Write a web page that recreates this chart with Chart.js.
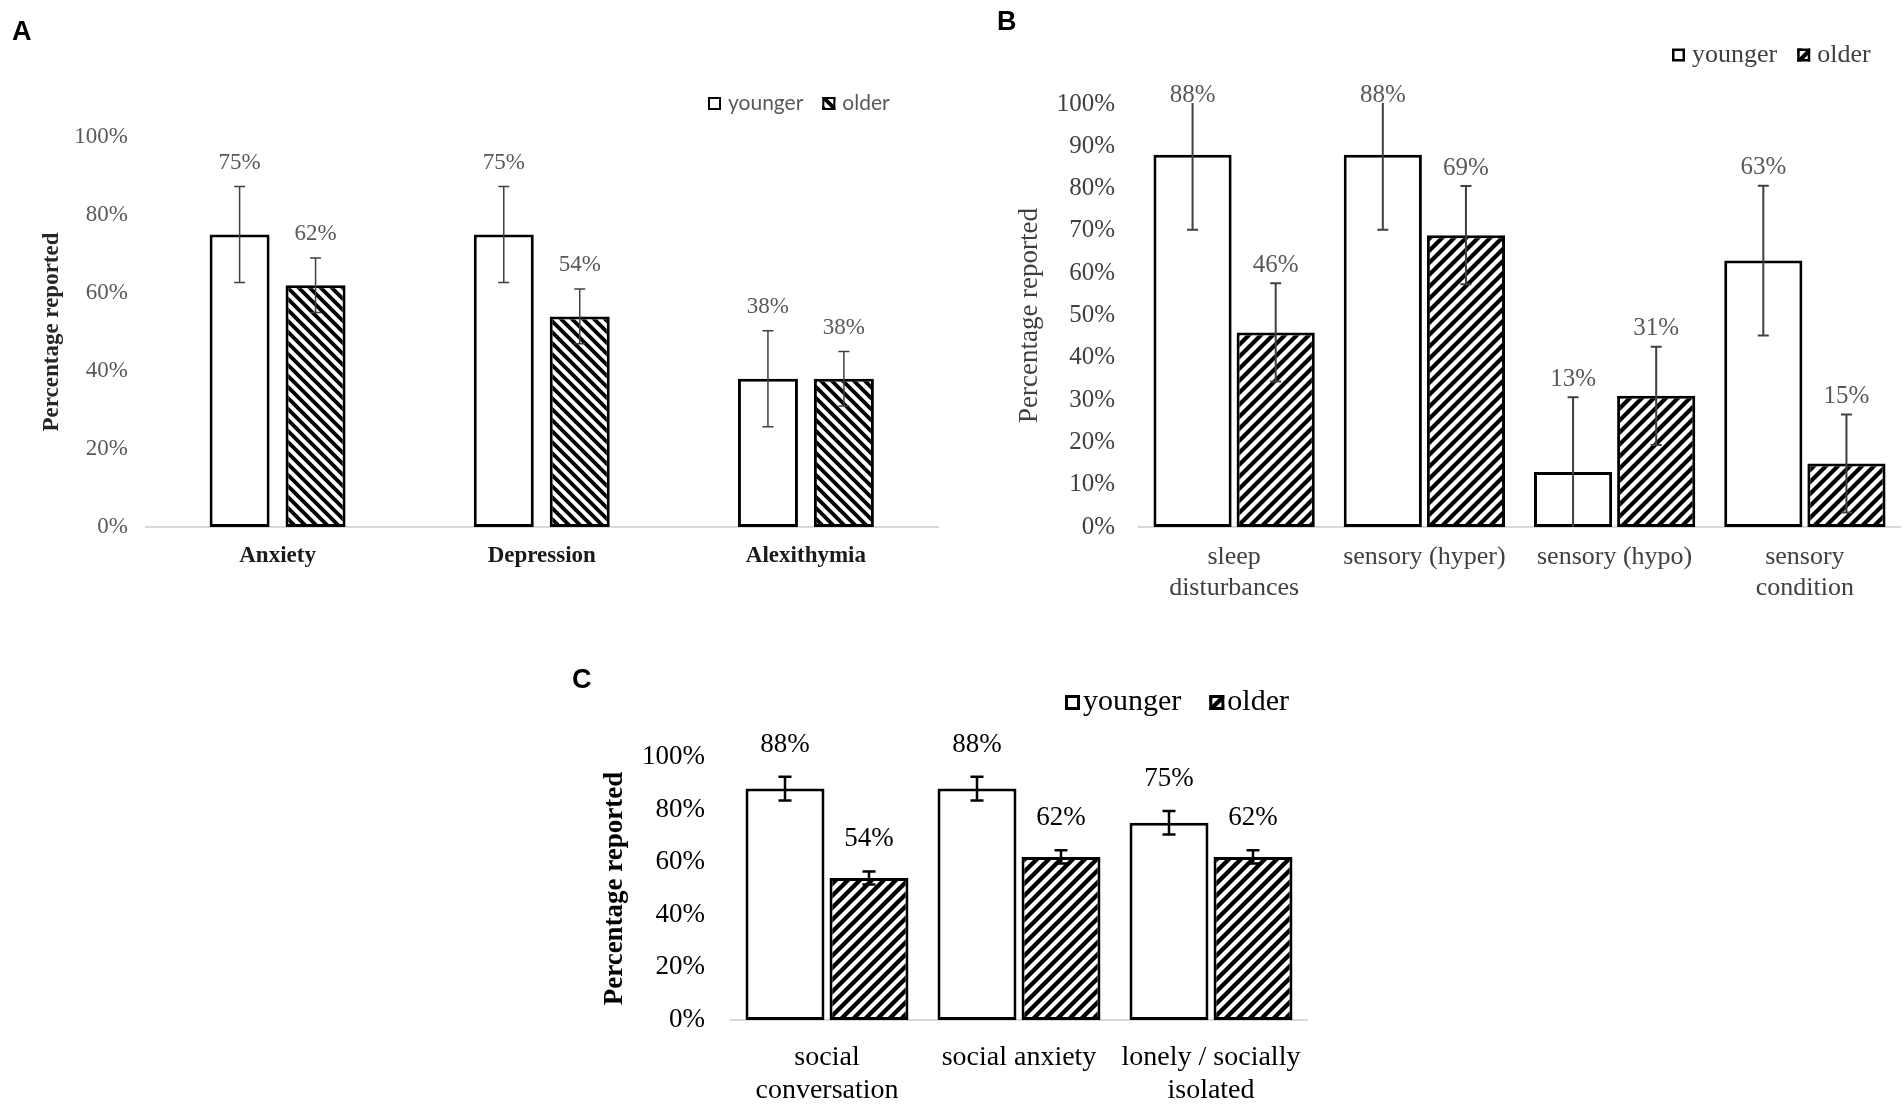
<!DOCTYPE html>
<html>
<head>
<meta charset="utf-8">
<script src="https://cdn.jsdelivr.net/npm/chart.js@4.4.1/dist/chart.umd.min.js"></script>
<style>
  body { margin: 0; background: #fff; }
  #wrap { position: relative; width: 1904px; height: 1108px; overflow: hidden; background: #fff; }
  canvas { position: absolute; left: 0; top: 0; }
  .panel { position: absolute; font: bold 27px "Liberation Sans", Arial, sans-serif; line-height: 1; color: #000; }
</style>
</head>
<body>
<div id="wrap">
  <canvas id="chartA" width="1904" height="1108"></canvas>
  <canvas id="chartB" width="1904" height="1108"></canvas>
  <canvas id="chartC" width="1904" height="1108"></canvas>
  <div class="panel" style="left:12px;top:18px">A</div>
  <div class="panel" style="left:997px;top:8px">B</div>
  <div class="panel" style="left:572px;top:666px">C</div>
</div>
<script>
const serif = "'Liberation Serif', 'Times New Roman', serif";

// panel A
const aCategories = ['Anxiety', 'Depression', 'Alexithymia'];
const aYounger = [75, 75, 38];
const aOlder = [62, 54, 38];
const aYoungerErr = [12.3, 12.3, 12.3];
const aOlderErr = [7, 7, 7];

// panel B
const bCategories = [['sleep', 'disturbances'], 'sensory (hyper)', 'sensory (hypo)', ['sensory', 'condition']];
const bYounger = [88, 88, 13, 63];
const bOlder = [46, 69, 31, 15];
const bYoungerErr = [17.7, 17.7, 17.7, 17.7];
const bOlderErr = [11.6, 11.6, 11.6, 11.6];

// panel C
const cCategories = [['social', 'conversation'], 'social anxiety', ['lonely / socially', 'isolated']];
const cYounger = [88, 88, 75];
const cOlder = [54, 62, 62];
const cYoungerErr = [4.5, 4.5, 4.5];
const cOlderErr = [2.5, 2.5, 2.5];

const seriesNames = ['younger', 'older'];

function hatch(dir, size, lw) {
  const c = document.createElement('canvas');
  c.width = size; c.height = size;
  const g = c.getContext('2d');
  g.fillStyle = '#fff';
  g.fillRect(0, 0, size, size);
  g.strokeStyle = '#000';
  g.lineWidth = lw;
  g.beginPath();
  if (dir === '/') {
    g.moveTo(0, size); g.lineTo(size, 0);
    g.moveTo(-size / 2, size / 2); g.lineTo(size / 2, -size / 2);
    g.moveTo(size / 2, size * 1.5); g.lineTo(size * 1.5, size / 2);
  } else {
    g.moveTo(0, 0); g.lineTo(size, size);
    g.moveTo(-size / 2, size / 2); g.lineTo(size / 2, size * 1.5);
    g.moveTo(size / 2, -size / 2); g.lineTo(size * 1.5, size / 2);
  }
  g.stroke();
  return g.createPattern(c, 'repeat');
}

// error bars + value labels above them
const errorBars = {
  id: 'errorBars',
  afterDatasetsDraw(chart, args, opts) {
    const {ctx, chartArea} = chart;
    const y = chart.scales.y;
    chart.data.datasets.forEach((ds, di) => {
      chart.getDatasetMeta(di).data.forEach((bar, i) => {
        const v = ds.data[i], e = ds.errors[i];
        const top = y.getPixelForValue(v + e);
        const bot = y.getPixelForValue(v - e);
        ctx.save();
        ctx.beginPath();
        ctx.rect(chartArea.left, chartArea.top - 1, chartArea.width, chartArea.height + 1);
        ctx.clip();
        ctx.strokeStyle = opts.color;
        ctx.lineWidth = opts.lineWidth;
        ctx.beginPath();
        ctx.moveTo(bar.x, top); ctx.lineTo(bar.x, bot);
        ctx.moveTo(bar.x - opts.cap / 2, top); ctx.lineTo(bar.x + opts.cap / 2, top);
        ctx.moveTo(bar.x - opts.cap / 2, bot); ctx.lineTo(bar.x + opts.cap / 2, bot);
        ctx.stroke();
        ctx.restore();

        let ly = y.getPixelForValue(v + e) - opts.labelOffset;
        if (opts.topGap != null) ly = Math.max(ly, chartArea.top - opts.topGap);
        ctx.save();
        ctx.fillStyle = opts.labelColor;
        ctx.font = opts.labelFont;
        ctx.textAlign = 'center';
        ctx.textBaseline = 'middle';
        ctx.fillText(v + '%', bar.x, ly);
        ctx.restore();
      });
    });
  }
};

// small legend with square swatches
const boxLegend = {
  id: 'boxLegend',
  afterDraw(chart, args, opts) {
    const ctx = chart.ctx;
    let x = opts.x;
    ctx.save();
    ctx.font = opts.font;
    ctx.textBaseline = 'middle';
    ctx.textAlign = 'left';
    chart.data.datasets.forEach(ds => {
      const top = opts.y - opts.box / 2;
      const lw = opts.lineWidth;
      ctx.fillStyle = ds.backgroundColor;
      ctx.fillRect(x, top, opts.box, opts.box);
      ctx.lineWidth = lw;
      ctx.strokeStyle = '#000';
      ctx.strokeRect(x + lw / 2, top + lw / 2, opts.box - lw, opts.box - lw);
      ctx.fillStyle = opts.color;
      const tx = x + opts.box + opts.textGap;
      ctx.fillText(ds.label, tx, opts.y);
      x = tx + ctx.measureText(ds.label).width + opts.itemGap;
    });
    ctx.restore();
  }
};

function makeChart(id, p) {
  return new Chart(document.getElementById(id), {
    type: 'bar',
    data: {
      labels: p.labels,
      datasets: [
        {
          label: seriesNames[0], data: p.younger, errors: p.youngerErr,
          backgroundColor: '#fff', borderColor: '#000', borderWidth: 3, borderSkipped: false,
          categoryPercentage: p.catPct, barPercentage: p.barPct
        },
        {
          label: seriesNames[1], data: p.older, errors: p.olderErr,
          backgroundColor: p.pattern, borderColor: '#000', borderWidth: 3, borderSkipped: false,
          categoryPercentage: p.catPct, barPercentage: p.barPct
        }
      ]
    },
    options: {
      responsive: false,
      animation: false,
      devicePixelRatio: 1,
      layout: { padding: p.padding },
      plugins: {
        legend: { display: false },
        tooltip: { enabled: false },
        errorBars: p.err,
        boxLegend: p.legend
      },
      scales: {
        x: {
          grid: { display: false, drawTicks: false },
          border: { display: true, color: '#d9d9d9', width: 2 },
          ticks: { font: p.xFont, color: p.xColor, padding: p.xPad, maxRotation: 0, autoSkip: false },
          afterFit: s => { s.height = p.xHeight; }
        },
        y: {
          min: 0,
          max: 100,
          ticks: { stepSize: p.step, callback: v => v + '%', font: p.yFont, color: p.yColor, padding: p.yPad },
          grid: { display: false, drawTicks: false },
          border: { display: false },
          title: { display: true, text: 'Percentage reported', font: p.titleFont, color: p.titleColor, padding: { top: p.titlePad, bottom: 0 } },
          afterFit: s => { s.width = p.yWidth; }
        }
      }
    },
    plugins: [errorBars, boxLegend]
  });
}

makeChart('chartA', {
  labels: aCategories, younger: aYounger, older: aOlder,
  youngerErr: aYoungerErr, olderErr: aOlderErr,
  pattern: hatch('\\', 11, 3.8),
  catPct: 0.575, barPct: 0.79,
  padding: { left: 0, right: 966, top: 137, bottom: 521 },
  xFont: { family: serif, size: 23, weight: 'bold' }, xColor: '#1a1a1a', xPad: 15, xHeight: 60,
  step: 20, yFont: { family: serif, size: 23 }, yColor: '#595959', yPad: 17.5, yWidth: 145.5,
  titleFont: { family: serif, size: 23, weight: 'bold' }, titleColor: '#262626', titlePad: 38,
  err: { color: '#404040', lineWidth: 1.5, cap: 11, labelFont: '23px ' + serif, labelColor: '#595959', labelOffset: 24 },
  legend: { x: 708, y: 103.5, box: 13, lineWidth: 2, textGap: 7, itemGap: 19, font: '21px Lato, "Open Sans", sans-serif', color: '#595959' }
});

makeChart('chartB', {
  labels: bCategories, younger: bYounger, older: bOlder,
  youngerErr: bYoungerErr, olderErr: bOlderErr,
  pattern: hatch('/', 12, 4.2),
  catPct: 0.874, barPct: 0.94,
  padding: { left: 960, right: 4, top: 104, bottom: 491 },
  xFont: { family: serif, size: 26 }, xColor: '#404040', xPad: 14.4, xHeight: 90,
  step: 10, yFont: { family: serif, size: 25 }, yColor: '#404040', yPad: 24, yWidth: 179,
  titleFont: { family: serif, size: 27 }, titleColor: '#404040', titlePad: 53.8,
  err: { color: '#404040', lineWidth: 2, cap: 11, labelFont: '25px ' + serif, labelColor: '#595959', labelOffset: 18, topGap: 9 },
  legend: { x: 1672, y: 55, box: 13, lineWidth: 2.5, textGap: 7, itemGap: 20, font: '26px ' + serif, color: '#404040' }
});

makeChart('chartC', {
  labels: cCategories, younger: cYounger, older: cOlder,
  youngerErr: cYoungerErr, olderErr: cOlderErr,
  pattern: hatch('/', 12, 4.4),
  catPct: 0.875, barPct: 0.94,
  padding: { left: 560, right: 597, top: 757, bottom: 0 },
  xFont: { family: serif, size: 28, lineHeight: 1.18 }, xColor: '#000', xPad: 21, xHeight: 88,
  step: 20, yFont: { family: serif, size: 27 }, yColor: '#000', yPad: 26, yWidth: 171,
  titleFont: { family: serif, size: 27, weight: 'bold' }, titleColor: '#000', titlePad: 38.8,
  err: { color: '#000', lineWidth: 2.5, cap: 13, labelFont: '27px ' + serif, labelColor: '#000', labelOffset: 32 },
  legend: { x: 1065, y: 702.5, box: 15, lineWidth: 3, textGap: 3, itemGap: 28, font: '30px ' + serif, color: '#000' }
});
</script>
</body>
</html>
